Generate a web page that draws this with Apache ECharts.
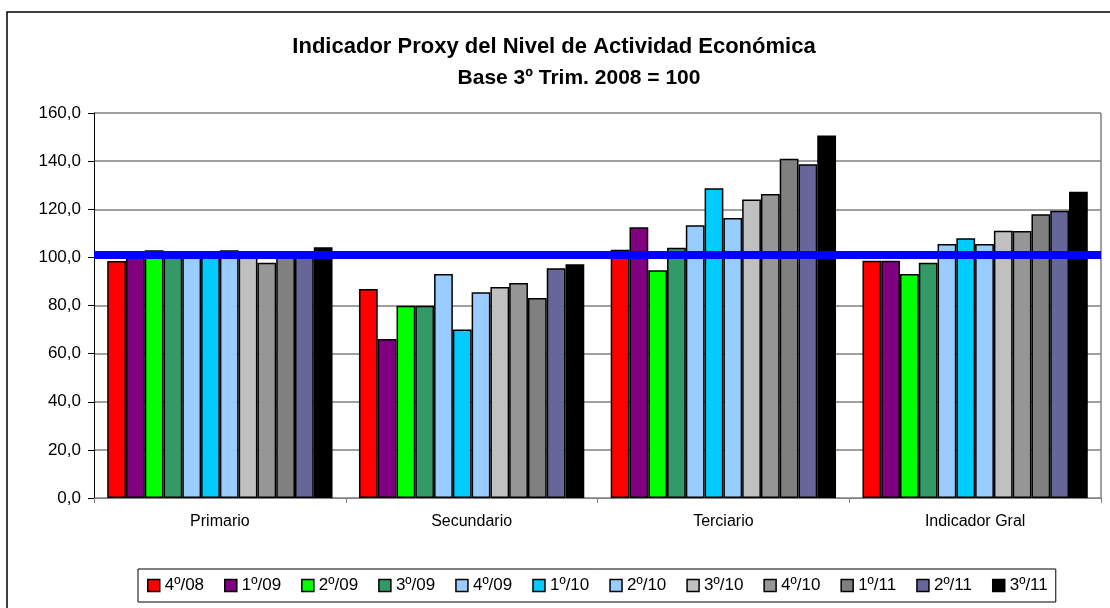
<!DOCTYPE html>
<html>
<head>
<meta charset="utf-8">
<script src="https://cdn.jsdelivr.net/npm/echarts@6/dist/echarts.min.js"></script>
<style>
  html, body { margin: 0; padding: 0; background: #fff; }
  #chart { width: 1110px; height: 608px; }
</style>
</head>
<body>
<div id="chart"></div>
<script>
const categories = ['Primario', 'Secundario', 'Terciario', 'Indicador Gral'];
const periods = ['4º/08', '1º/09', '2º/09', '3º/09', '4º/09', '1º/10', '2º/10', '3º/10', '4º/10', '1º/11', '2º/11', '3º/11'];

// one value per period
const primario = [98.5, 101.0, 103.0, 102.3, 102.3, 102.3, 103.0, 102.3, 97.8, 101.0, 101.0, 104.2];
const secundario = [86.9, 66.1, 79.9, 79.9, 93.1, 70.0, 85.5, 87.7, 89.4, 83.1, 95.5, 97.1];
const terciario = [103.2, 112.5, 94.6, 104.0, 113.3, 128.7, 116.4, 124.1, 126.3, 141.0, 138.7, 150.6];
const indicadorGral = [98.6, 98.6, 93.1, 97.8, 105.6, 107.9, 105.6, 111.1, 111.0, 117.9, 119.4, 127.3];

const baseLine = 100.9;
const yTicks = [0, 20, 40, 60, 80, 100, 120, 140, 160];

const colors = ['#FF0000', '#800080', '#00FF00', '#339966', '#99CCFF', '#00CCFF',
  '#99CCFF', '#C0C0C0', '#969696', '#808080', '#666699', '#000000'];

const chart = echarts.init(document.getElementById('chart'));

let series = periods.map((name, i) => ({
  name: name,
  type: 'bar',
  data: [primario[i], secundario[i], terciario[i], indicadorGral[i]],
  barGap: '0%',
  barCategoryGap: '10.5%',
  itemStyle: { color: colors[i], borderColor: '#000', borderWidth: 1.5 },
  emphasis: { disabled: true },
}));

series[series.length - 1].markLine = {
  silent: true,
  symbol: 'none',
  label: { show: false },
  lineStyle: { color: '#0000FF', width: 8, type: 'solid' },
  data: [{ yAxis: baseLine }],
};

let option = {
  animation: false,
  color: colors,
  textStyle: { fontFamily: 'Liberation Sans, Arial, sans-serif' },
  title: [
    {
      text: 'Indicador Proxy del Nivel de Actividad Económica',
      left: 554,
      top: 36,
      textAlign: 'center',
      padding: 0,
      textStyle: { fontSize: 22, fontWeight: 'bold', color: '#000' },
    },
    {
      text: 'Base 3º Trim. 2008 = 100',
      left: 579,
      top: 68,
      textAlign: 'center',
      padding: 0,
      textStyle: { fontSize: 21, fontWeight: 'bold', color: '#000' },
    },
  ],
  graphic: [{
    type: 'rect',
    shape: { x: 7, y: 12, width: 1200, height: 700 },
    style: { fill: 'none', stroke: '#000', lineWidth: 1.5 },
    silent: true,
  }, {
    // right border of the plot area
    type: 'line',
    shape: { x1: 1101, y1: 113, x2: 1101, y2: 498 },
    style: { stroke: '#808080', lineWidth: 1.5 },
    silent: true,
  }],
  legend: {
    left: 138,
    top: 569,
    padding: [8, 8, 8, 9],
    borderColor: '#000',
    borderWidth: 1,
    itemWidth: 12,
    itemHeight: 12,
    itemGap: 20,
    icon: 'rect',
    itemStyle: { borderColor: '#000', borderWidth: 1.5 },
    textStyle: { fontSize: 17, color: '#000' },
    data: periods,
  },
  grid: { left: 94, right: 9, top: 113, bottom: 110 },
  xAxis: {
    type: 'category',
    data: categories,
    axisLine: { lineStyle: { color: '#808080', width: 1 } },
    axisTick: { show: true, length: 5, lineStyle: { color: '#808080' } },
    axisLabel: { fontSize: 16, color: '#000', margin: 16 },
    splitLine: { show: false },
  },
  yAxis: {
    type: 'value',
    min: yTicks[0],
    max: yTicks[yTicks.length - 1],
    interval: 20,
    axisLine: { show: true, lineStyle: { color: '#000', width: 1 } },
    axisTick: { show: true, length: 6, lineStyle: { color: '#000' } },
    axisLabel: {
      fontSize: 17,
      color: '#000',
      margin: 13,
      formatter: (v) => v.toFixed(1).replace('.', ','),
    },
    splitLine: { show: true, lineStyle: { color: '#808080', width: 1.5 } },
  },
  series: series,
};

option && chart.setOption(option);
</script>
</body>
</html>
